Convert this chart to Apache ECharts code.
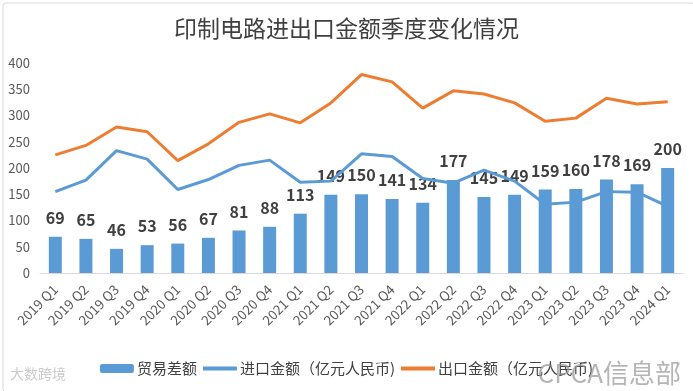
<!DOCTYPE html>
<html>
<head>
<meta charset="utf-8">
<script src="https://cdn.jsdelivr.net/npm/echarts@6/dist/echarts.min.js"></script>
<style>
html,body{margin:0;padding:0;background:#fff;}
#chart{width:693px;height:391px;}
</style>
</head>
<body>
<div id="chart"></div>
<script>
const categories = ['2019 Q1','2019 Q2','2019 Q3','2019 Q4','2020 Q1','2020 Q2','2020 Q3','2020 Q4','2021 Q1','2021 Q2','2021 Q3','2021 Q4','2022 Q1','2022 Q2','2022 Q3','2022 Q4','2023 Q1','2023 Q2','2023 Q3','2023 Q4','2024 Q1'];
const tradeBalance = [69,65,46,53,56,67,81,88,113,149,150,141,134,177,145,149,159,160,178,169,200];
const importValues = [155,177,233,217,159,178,205,215,173,175,227,222,180,171,196,175,131,135,155,154,127];
const exportValues = [225,243,278,269,214,246,287,303,286,324,378,364,314,347,341,324,289,295,333,322,326];
const seriesNames = ['贸易差额','进口金额（亿元人民币)','出口金额（亿元人民币)'];
const titleText = '印制电路进出口金额季度变化情况';

const FONT = '"Noto Sans CJK SC","Noto Sans",sans-serif';
const chart = echarts.init(document.getElementById('chart'));
chart.setOption({
  animation: false,
  backgroundColor: '#ffffff',
  title: {
    text: titleText,
    left: 'center',
    top: 12,
    textStyle: {fontFamily: FONT, fontSize: 23, fontWeight: 'normal', color: '#404040'}
  },
  legend: {
    data: [
      {name: seriesNames[0]},
      {name: seriesNames[1], itemStyle: {opacity: 0}, lineStyle: {width: 4}},
      {name: seriesNames[2], itemStyle: {opacity: 0}, lineStyle: {width: 4}}
    ],
    left: 'center',
    top: 356,
    itemWidth: 34,
    itemHeight: 9,
    itemGap: 4,
    textStyle: {fontFamily: FONT, fontSize: 15, color: '#404040', padding: [0,0,0,-2]}
  },
  grid: {left: 40, right: 10, top: 63, bottom: 118},
  xAxis: {
    type: 'category',
    data: categories,
    axisLine: {show: true, lineStyle: {color: '#d9d9d9', width: 1}},
    axisTick: {show: false},
    axisLabel: {rotate: 45, interval: 0, fontFamily: FONT, fontSize: 13.5, color: '#595959', margin: 14}
  },
  yAxis: {
    type: 'value',
    min: 0,
    max: 400,
    interval: 50,
    splitLine: {show: false},
    axisLine: {show: false},
    axisTick: {show: false},
    axisLabel: {fontFamily: FONT, fontSize: 13, color: '#595959', margin: 10}
  },
  series: [
    {
      name: seriesNames[0],
      type: 'bar',
      data: tradeBalance,
      barWidth: 13,
      itemStyle: {color: '#5b9bd5'},
      z: 1,
      label: {show: true, position: 'top', distance: 11, fontFamily: FONT, fontSize: 16, fontWeight: 'bold', color: '#404040'}
    },
    {
      name: seriesNames[1],
      type: 'line',
      data: importValues,
      symbol: 'none',
      lineStyle: {color: '#5b9bd5', width: 3},
      itemStyle: {color: '#5b9bd5'},
      z: 2
    },
    {
      name: seriesNames[2],
      type: 'line',
      data: exportValues,
      symbol: 'none',
      lineStyle: {color: '#ed7d31', width: 3},
      itemStyle: {color: '#ed7d31'},
      z: 2
    }
  ],
  graphic: [
    {type: 'rect', left: 0.5, top: 0.5, shape: {width: 691, height: 389, r: 3}, style: {fill: 'none', stroke: '#d9d9d9', lineWidth: 1}, silent: true},
    {type: 'text', right: 12, top: 360, style: {text: 'CPCA信息部', fontFamily: FONT, fontSize: 26, fill: 'rgba(150,150,150,0.7)'}, silent: true, z: 100},
    {type: 'text', left: 10, top: 367, style: {text: '大数跨境', fontFamily: FONT, fontSize: 14, fill: 'rgba(190,190,190,0.8)'}, silent: true, z: 100}
  ]
});
</script>
</body>
</html>
